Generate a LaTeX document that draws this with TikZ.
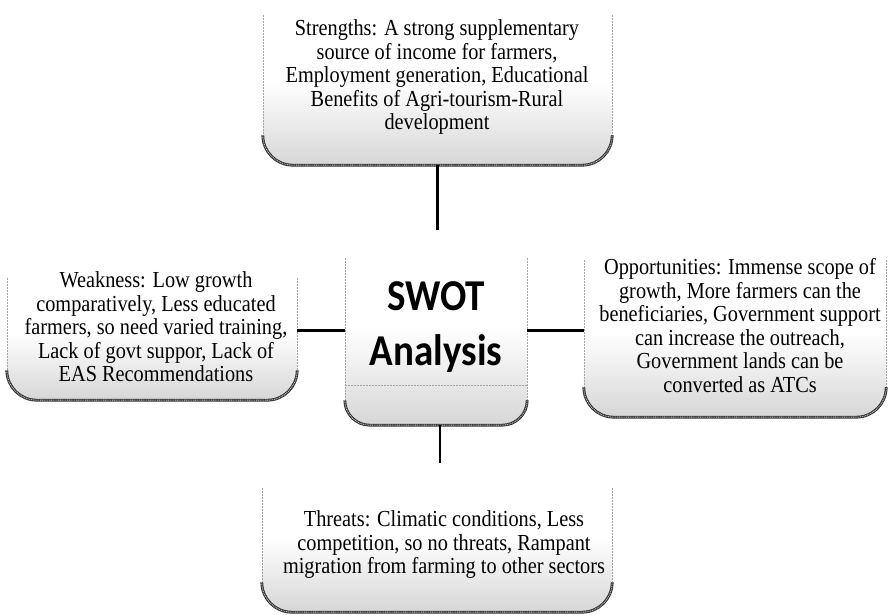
\documentclass[tikz,border=0pt]{standalone}
\usepackage{fontspec}
\usepackage{graphicx}
\setmainfont{Liberation Serif}
\newfontfamily\swotfont{Carlito}
\usetikzlibrary{backgrounds}
\definecolor{boxgray}{gray}{0.84}
\definecolor{edgegray}{gray}{0.2}
\newcommand\stretchtext[2]{\scalebox{1}[1.13]{#1\begin{tabular}{@{}c@{}}#2\end{tabular}}}
\newcommand\swotdeco[3]{%
  \begin{pgfonlayer}{background}
  \shade[top color=white, bottom color=boxgray, middle color=white]
    (#1.north west) -- ([yshift=#3]#1.south west)
    arc[start angle=180, end angle=270, radius=#3]
    -- ([xshift=-#3]#1.south east)
    arc[start angle=270, end angle=360, radius=#3]
    -- (#1.north east) -- cycle;
  \draw[sidedash] ([yshift=-#2]#1.north west) -- ([yshift=#3]#1.south west);
  \draw[sidedash] ([yshift=-#2]#1.north east) -- ([yshift=#3]#1.south east);
  \draw[bottomline] ([yshift=#3]#1.south west)
    arc[start angle=180, end angle=270, radius=#3]
    -- ([xshift=-#3]#1.south east)
    arc[start angle=270, end angle=360, radius=#3];
  \draw[bottomdots] ([yshift=#3]#1.south west)
    arc[start angle=180, end angle=270, radius=#3]
    -- ([xshift=-#3]#1.south east)
    arc[start angle=270, end angle=360, radius=#3];
  \end{pgfonlayer}}
\tikzset{
  boxnode/.style={inner sep=0pt, draw=none},
  txt/.style={inner sep=0pt, align=center},
  sidedash/.style={draw=gray!70, line width=0.5pt, dash pattern=on 2pt off 1pt},
  bottomline/.style={draw=edgegray, line width=2.8pt},
  bottomdots/.style={draw=gray!45, line width=0.9pt, dash pattern=on 0.9pt off 0.9pt},
  link/.style={draw=black, line width=2.4pt}
}
\begin{document}
\begin{tikzpicture}[x=1pt, y=1pt]
\useasboundingbox (0,0) rectangle (889,615);
% boxes
\node[boxnode, minimum width=349pt, minimum height=165pt] (s) at (437.5,532.5) {};
\node[boxnode, minimum width=182pt, minimum height=195pt] (c) at (436,287.5) {};
\node[boxnode, minimum width=290pt, minimum height=135pt] (w) at (152,282.5) {};
\node[boxnode, minimum width=302pt, minimum height=169pt] (o) at (735,282.5) {};
\node[boxnode, minimum width=350pt, minimum height=149pt] (t) at (437,77.5) {};
\swotdeco{s}{15pt}{30pt}
\swotdeco{c}{28pt}{25pt}
\swotdeco{w}{13pt}{30pt}
\swotdeco{o}{12pt}{30pt}
\swotdeco{t}{25pt}{30pt}
\draw[sidedash] ([yshift=-155pt]c.north west) -- ([yshift=-155pt]c.north east);
% texts
\node[txt] (stxt) at (437,537) {\stretchtext{\fontsize{20.3}{20.8}\selectfont}{Strengths: A strong supplementary\\source of income for farmers,\\Employment generation, Educational\\Benefits of Agri-tourism-Rural\\development}};
\node[txt] (ctxt) at (436,288) {\stretchtext{\swotfont\bfseries\fontsize{39}{48.5}\selectfont}{SWOT\\Analysis}};
\node[txt] (wtxt) at (156,285) {\stretchtext{\fontsize{20.3}{20.8}\selectfont}{Weakness: Low growth\\comparatively, Less educated\\farmers, so need varied training,\\Lack of govt suppor, Lack of\\EAS Recommendations}};
\node[txt] (otxt) at (740,286) {\stretchtext{\fontsize{20.3}{20.8}\selectfont}{Opportunities: Immense scope of\\growth, More farmers can the\\beneficiaries, Government support\\can increase the outreach,\\Government lands can be\\converted as ATCs}};
\node[txt] (ttxt) at (444,69.5) {\stretchtext{\fontsize{20.3}{20.8}\selectfont}{Threats: Climatic conditions, Less\\competition, so no threats, Rampant\\migration from farming to other sectors}};
% connectors
\draw[link] (s.south) -- (s.south |- c.north);
\draw[link] ([xshift=4pt]c.south) -- ([xshift=4pt]c.south |- t.north);
\draw[link] ([yshift=-3pt]c.west) -- ([yshift=-3pt]c.west -| w.east);
\draw[link] ([yshift=-3pt]c.east) -- ([yshift=-3pt]c.east -| o.west);
\end{tikzpicture}
\end{document}
